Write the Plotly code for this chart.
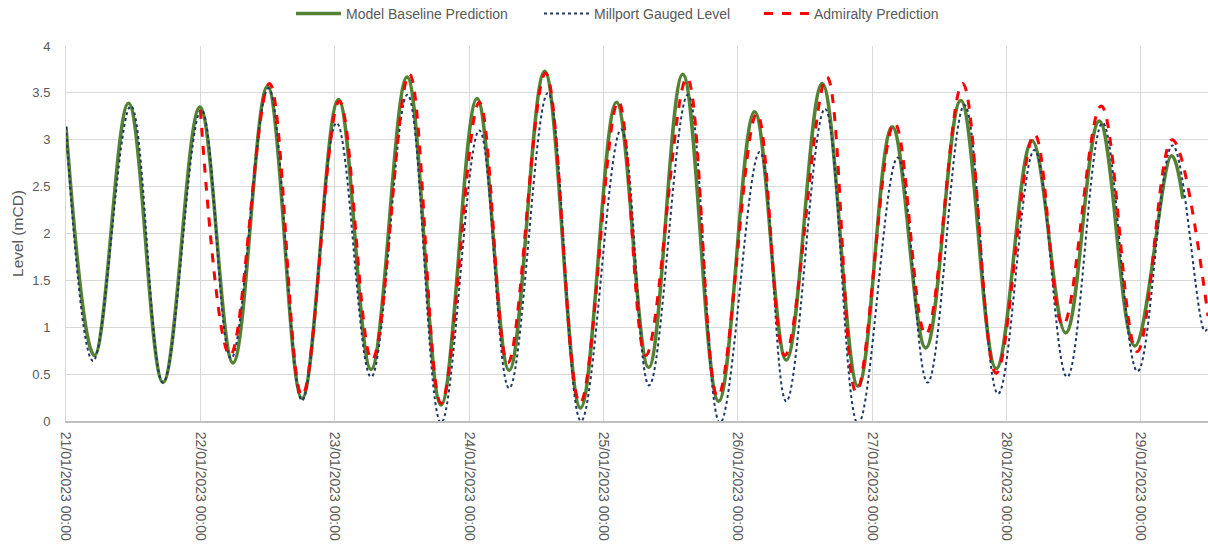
import pandas as pd
import plotly.graph_objects as go

# Tide extremes (high / low waters) per series, level in metres chart datum
model_times = [
    "2023-01-21 00:00", "2023-01-21 05:05", "2023-01-21 11:10", "2023-01-21 17:20",
    "2023-01-21 23:55", "2023-01-22 05:50", "2023-01-22 12:00", "2023-01-22 18:10",
    "2023-01-23 00:40", "2023-01-23 06:30", "2023-01-23 12:55", "2023-01-23 19:00",
    "2023-01-24 01:25", "2023-01-24 07:10", "2023-01-24 13:30", "2023-01-24 19:55",
    "2023-01-25 02:20", "2023-01-25 08:05", "2023-01-25 14:10", "2023-01-25 20:35",
    "2023-01-26 03:00", "2023-01-26 08:40", "2023-01-26 15:05", "2023-01-26 21:30",
    "2023-01-27 03:35", "2023-01-27 09:35", "2023-01-27 15:50", "2023-01-27 22:10",
    "2023-01-28 04:35", "2023-01-28 10:35", "2023-01-28 16:35", "2023-01-28 22:55",
    "2023-01-29 05:30", "2023-01-29 07:30",
]
model_levels = [
    3.14, 0.70, 3.39, 0.41,
    3.35, 0.62, 3.57, 0.24,
    3.43, 0.55, 3.67, 0.17,
    3.44, 0.54, 3.73, 0.14,
    3.40, 0.57, 3.70, 0.21,
    3.30, 0.65, 3.60, 0.37,
    3.14, 0.78, 3.42, 0.56,
    2.99, 0.94, 3.20, 0.80,
    2.83, 2.37,
]

gauged_times = [
    "2023-01-21 00:00", "2023-01-21 04:50", "2023-01-21 11:35", "2023-01-21 17:20",
    "2023-01-22 00:10", "2023-01-22 05:30", "2023-01-22 12:10", "2023-01-22 18:10",
    "2023-01-23 00:20", "2023-01-23 06:30", "2023-01-23 13:00", "2023-01-23 19:00",
    "2023-01-24 01:50", "2023-01-24 07:10", "2023-01-24 14:05", "2023-01-24 20:00",
    "2023-01-25 03:10", "2023-01-25 08:10", "2023-01-25 15:05", "2023-01-25 20:50",
    "2023-01-26 03:55", "2023-01-26 08:40", "2023-01-26 15:35", "2023-01-26 21:30",
    "2023-01-27 04:35", "2023-01-27 09:55", "2023-01-27 16:30", "2023-01-27 22:30",
    "2023-01-28 05:00", "2023-01-28 10:50", "2023-01-28 17:10", "2023-01-28 23:25",
    "2023-01-29 05:40", "2023-01-29 11:25", "2023-01-29 12:00",
]
gauged_levels = [
    3.14, 0.64, 3.36, 0.41,
    3.32, 0.67, 3.55, 0.22,
    3.18, 0.47, 3.48, -0.02,
    3.10, 0.35, 3.50, 0.00,
    3.11, 0.38, 3.48, -0.02,
    2.87, 0.21, 3.33, -0.03,
    2.81, 0.41, 3.37, 0.29,
    2.89, 0.47, 3.18, 0.53,
    2.94, 0.96, 1.00,
]

admiralty_times = [
    "2023-01-22 00:00", "2023-01-22 05:20", "2023-01-22 12:20", "2023-01-22 18:10",
    "2023-01-23 00:50", "2023-01-23 06:40", "2023-01-23 13:20", "2023-01-23 19:00",
    "2023-01-24 01:50", "2023-01-24 06:55", "2023-01-24 13:40", "2023-01-24 19:50",
    "2023-01-25 02:40", "2023-01-25 07:35", "2023-01-25 14:55", "2023-01-25 20:25",
    "2023-01-26 03:25", "2023-01-26 08:25", "2023-01-26 15:55", "2023-01-26 21:10",
    "2023-01-27 04:00", "2023-01-27 09:35", "2023-01-27 16:10", "2023-01-27 22:10",
    "2023-01-28 05:00", "2023-01-28 10:05", "2023-01-28 16:55", "2023-01-28 23:20",
    "2023-01-29 05:35", "2023-01-29 12:00",
]
admiralty_levels = [
    3.32, 0.70, 3.60, 0.27,
    3.41, 0.65, 3.70, 0.19,
    3.40, 0.62, 3.71, 0.19,
    3.41, 0.70, 3.66, 0.26,
    3.28, 0.70, 3.67, 0.31,
    3.18, 0.92, 3.60, 0.51,
    3.06, 1.02, 3.36, 0.74,
    3.00, 1.12,
]

y_ticks = [0, 0.5, 1, 1.5, 2, 2.5, 3, 3.5, 4]
x_start = "2023-01-21 00:00"
x_end = "2023-01-29 12:00"

FONT = "Liberation Sans, Arial, sans-serif"
TEXT = "#595959"
GRID = "#d9d9d9"
W, H = 1208, 550

fig = go.Figure()
fig.add_trace(go.Scatter(
    x=pd.to_datetime(model_times), y=model_levels, mode="lines",
    name="Model Baseline Prediction", legend="legend",
    line=dict(color="#548235", width=3.5, shape="spline", smoothing=1.1),
))
fig.add_trace(go.Scatter(
    x=pd.to_datetime(gauged_times), y=gauged_levels, mode="lines",
    name="Millport Gauged Level", legend="legend2",
    line=dict(color="#203864", width=2, dash="dot", shape="spline", smoothing=1.1),
))
fig.add_trace(go.Scatter(
    x=pd.to_datetime(admiralty_times), y=admiralty_levels, mode="lines",
    name="Admiralty Prediction", legend="legend3",
    line=dict(color="#ff0000", width=3, dash="dash", shape="spline", smoothing=1.1),
))


def legend_at(left_px):
    # one legend box per series so each entry sits at its own spot in the header row
    return dict(
        orientation="h", x=left_px / W, xanchor="left",
        y=1 - 14 / H, yanchor="middle",
        xref="container", yref="container",
        font=dict(size=14, color=TEXT), itemwidth=45,
        bgcolor="rgba(0,0,0,0)",
    )


fig.update_layout(
    width=W, height=H,
    margin=dict(l=66, r=0, t=46, b=129),
    paper_bgcolor="white", plot_bgcolor="white",
    font=dict(family=FONT, size=13, color=TEXT),
    showlegend=True,
    legend=legend_at(291),
    legend2=legend_at(539),
    legend3=legend_at(759),
)

fig.update_xaxes(
    range=[pd.Timestamp(x_start), pd.Timestamp(x_end)],
    tickmode="linear", tick0=x_start, dtick=86400000,
    tickformat="%d/%m/%Y %H:%M", tickangle=90,
    tickfont=dict(size=14, color=TEXT),
    showgrid=True, gridcolor=GRID, gridwidth=1,
    showline=True, linecolor="#bfbfbf", linewidth=2,
    ticks="", ticklabelstandoff=6,
    zeroline=False,
)
fig.update_yaxes(
    range=[0, 4], tickmode="array", tickvals=y_ticks,
    ticktext=[f"{v:g}" for v in y_ticks],
    tickfont=dict(size=13, color=TEXT),
    showgrid=True, gridcolor=GRID, gridwidth=1,
    showline=True, linecolor=GRID, linewidth=1,
    ticks="", ticklabelstandoff=12,
    zeroline=False,
    title=dict(text="Level (mCD)", font=dict(size=15.5, color=TEXT), standoff=4),
)

fig.write_html("out.html")
